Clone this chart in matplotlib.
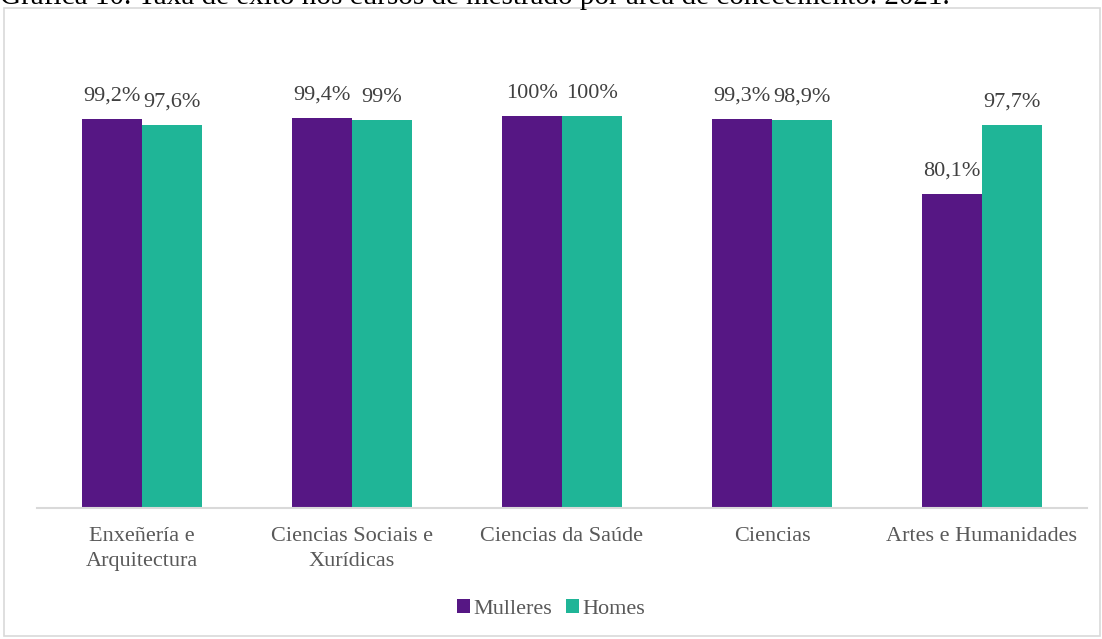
import matplotlib
matplotlib.use("Agg")
import matplotlib.pyplot as plt
from matplotlib.patches import Rectangle
import numpy as np

categories = ["Enxeñería e\nArquitectura", "Ciencias Sociais e\nXurídicas",
              "Ciencias da Saúde", "Ciencias", "Artes e Humanidades"]
mulleres = [99.2, 99.4, 100, 99.3, 80.1]
homes = [97.6, 99, 100, 98.9, 97.7]
mulleres_labels = ["99,2%", "99,4%", "100%", "99,3%", "80,1%"]
homes_labels = ["97,6%", "99%", "100%", "98,9%", "97,7%"]
series_names = ["Mulleres", "Homes"]
title = "Gráfica 10. Taxa de éxito nos cursos de mestrado por área de coñecemento. 2021."

purple = "#561784"
green = "#1FB597"
W, H = 1102, 639
fig = plt.figure(figsize=(W / 100, H / 100), dpi=100)
plt.rcParams['font.family'] = ['Liberation Serif', 'DejaVu Serif']

# chart border
fig.patches.append(Rectangle((4 / W, 3 / H), 1096 / W, (H - 11) / H, transform=fig.transFigure,
                             fill=False, edgecolor="#D9D9D9", linewidth=1.2))
fig.text(0.0, 1 - 4 / H, title, fontsize=21, color="black", va="baseline", ha="left")

ax = fig.add_axes([37 / W, 131 / H, 1050 / W, (470.4) / H])
x = np.arange(len(categories))
bw = 60 / 210
b1 = ax.bar(x - bw / 2, mulleres, bw, color=purple, label=series_names[0])
b2 = ax.bar(x + bw / 2, homes, bw, color=green, label=series_names[1])
for bars, labs in ((b1, mulleres_labels), (b2, homes_labels)):
    for rect, lab in zip(bars, labs):
        ax.annotate(lab, (rect.get_x() + rect.get_width() / 2, rect.get_height()),
                    xytext=(0, 16.5), textcoords="offset points", ha="center", va="center",
                    fontsize=16, color="#404040")
ax.set_xlim(-0.5, 4.5)
ax.set_ylim(0, 120)
ax.set_yticks([])
ax.set_xticks(x)
ax.set_xticklabels(categories, fontsize=16, color="#595959", linespacing=1.4)
ax.tick_params(axis="x", length=0, pad=14)
for s in ["top", "right", "left"]:
    ax.spines[s].set_visible(False)
ax.spines["bottom"].set_color("#D9D9D9")
ax.spines["bottom"].set_linewidth(1.5)
leg = fig.legend(handles=[b1, b2], labels=series_names, loc="center", bbox_to_anchor=(551 / W, 1 - 609 / H),
                 ncol=2, frameon=False, fontsize=16, handlelength=0.6, handleheight=0.6,
                 handletextpad=0.15, columnspacing=0.6, labelcolor="#595959")
fig.savefig("out.png", dpi=100)
